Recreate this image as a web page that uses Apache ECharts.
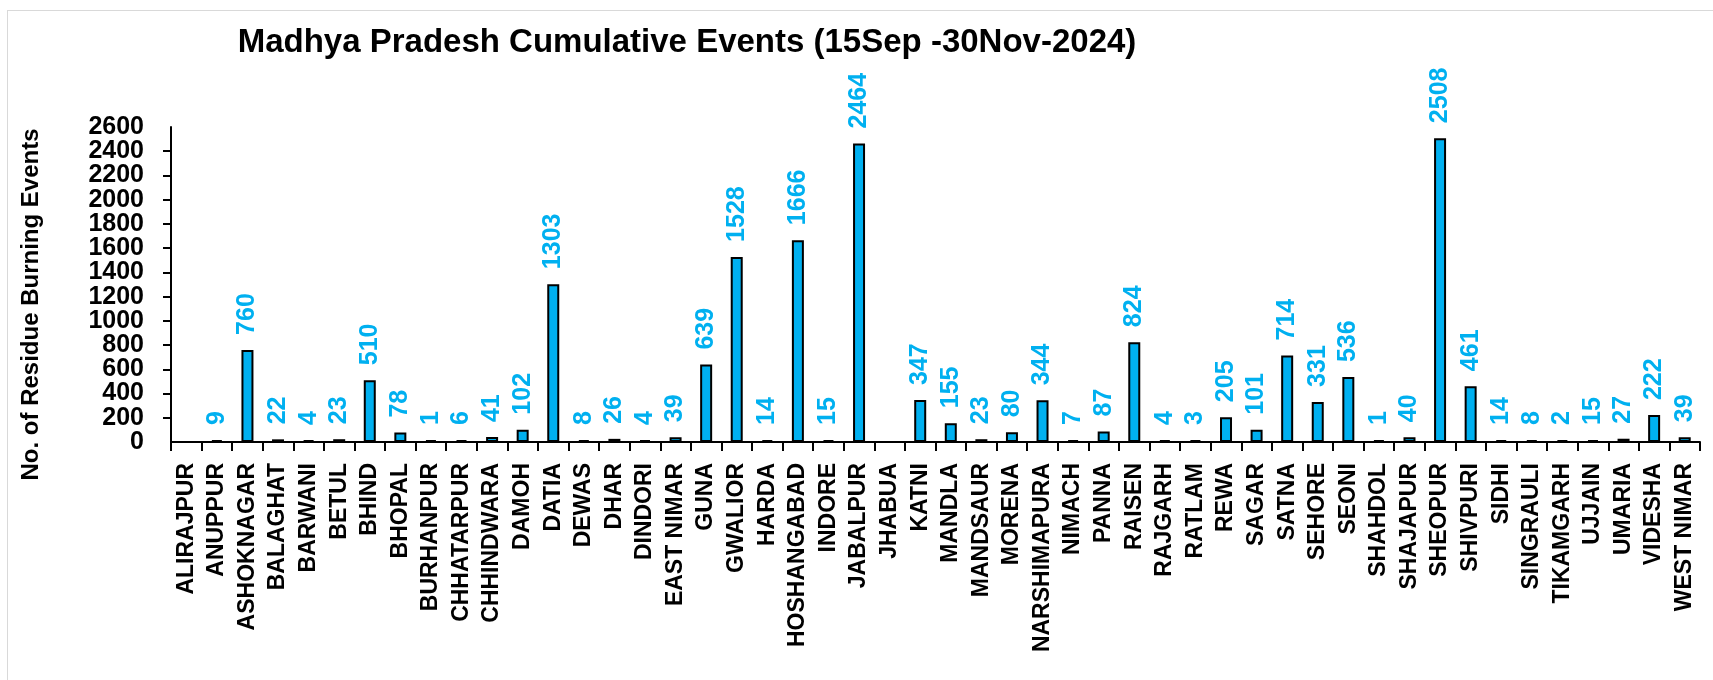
<!DOCTYPE html>
<html>
<head>
<meta charset="utf-8">
<script src="https://cdn.jsdelivr.net/npm/echarts@6/dist/echarts.min.js"></script>
<style>
  html, body { margin: 0; padding: 0; background: #fff; overflow: hidden; }
  #frame { position: absolute; left: 7px; top: 10px; width: 1720px; height: 700px; border: 1px solid #d9d9d9; box-sizing: border-box; }
  #chart { position: absolute; left: 0; top: 0; width: 1713px; height: 680px; }
</style>
</head>
<body>
<div id="frame"></div>
<div id="chart"></div>
<script>
// districts on the x axis
const districts = [
  'ALIRAJPUR', 'ANUPPUR', 'ASHOKNAGAR', 'BALAGHAT', 'BARWANI', 'BETUL', 'BHIND', 'BHOPAL',
  'BURHANPUR', 'CHHATARPUR', 'CHHINDWARA', 'DAMOH', 'DATIA', 'DEWAS', 'DHAR', 'DINDORI',
  'EAST NIMAR', 'GUNA', 'GWALIOR', 'HARDA', 'HOSHANGABAD', 'INDORE', 'JABALPUR', 'JHABUA',
  'KATNI', 'MANDLA', 'MANDSAUR', 'MORENA', 'NARSHIMAPURA', 'NIMACH', 'PANNA', 'RAISEN',
  'RAJGARH', 'RATLAM', 'REWA', 'SAGAR', 'SATNA', 'SEHORE', 'SEONI', 'SHAHDOL',
  'SHAJAPUR', 'SHEOPUR', 'SHIVPURI', 'SIDHI', 'SINGRAULI', 'TIKAMGARH', 'UJJAIN', 'UMARIA',
  'VIDESHA', 'WEST NIMAR'
];

// cumulative events (null = no bar / no label)
const events = [
  null, 9, 760, 22, 4, 23, 510, 78,
  1, 6, 41, 102, 1303, 8, 26, 4,
  39, 639, 1528, 14, 1666, 15, 2464, null,
  347, 155, 23, 80, 344, 7, 87, 824,
  4, 3, 205, 101, 714, 331, 536, 1,
  40, 2508, 461, 14, 8, 2, 15, 27,
  222, 39
];

const yMin = 0;
const yMax = 2600;
const yStep = 200;

const tickFont = {
  color: '#000',
  fontFamily: 'Liberation Sans',
  fontWeight: 'bold',
  fontSize: 25
};

const chart = echarts.init(document.getElementById('chart'));

const option = {
  animation: false,
  title: {
    text: 'Madhya Pradesh Cumulative Events (15Sep -30Nov-2024)',
    left: 682,
    top: 21,
    textAlign: 'center',
    textStyle: {
      fontFamily: 'Liberation Sans',
      fontWeight: 'bold',
      fontSize: 33,
      color: '#000'
    }
  },
  grid: {
    left: 171,
    right: 13,
    top: 127,
    bottom: 238
  },
  xAxis: {
    type: 'category',
    data: districts,
    axisLine: { lineStyle: { color: '#000', width: 2 } },
    axisTick: { show: true, length: 9, lineStyle: { color: '#000', width: 2 } },
    axisLabel: {
      rotate: 90,
      interval: 0,
      margin: 21,
      color: '#000',
      fontFamily: 'Liberation Sans',
      fontWeight: 'bold',
      fontSize: 23
    }
  },
  yAxis: [{
    type: 'value',
    min: yMin,
    max: yMax,
    interval: yStep,
    name: 'No. of Residue Burning Events',
    nameLocation: 'middle',
    nameRotate: 90,
    nameGap: 128,
    nameTextStyle: {
      fontFamily: 'Liberation Sans',
      fontWeight: 'bold',
      fontSize: 24,
      color: '#000',
      padding: [0, 40, 0, 0]
    },
    splitLine: { show: false },
    axisLine: { show: true, lineStyle: { color: '#000', width: 2 } },
    axisTick: { show: true, length: 8, lineStyle: { color: '#000', width: 2 } },
    axisLabel: Object.assign({
      margin: 27,
      showMinLabel: false,
      showMaxLabel: false,
      formatter: v => String(v)
    }, tickFont)
  }, {
    // end labels (0 and 2600), kept apart so the overlap check does not drop neighbours
    type: 'value',
    position: 'left',
    min: yMin,
    max: yMax,
    interval: yStep,
    splitLine: { show: false },
    axisLine: { show: false },
    axisTick: { show: false },
    axisLabel: Object.assign({
      margin: 27,
      customValues: [yMin, yMax],
      formatter: v => String(v)
    }, tickFont)
  }],
  series: [{
    type: 'bar',
    data: events,
    barWidth: 12,
    barMinHeight: 2,
    itemStyle: {
      color: '#00B0F0',
      borderColor: '#000',
      borderWidth: 2
    },
    label: {
      show: true,
      position: 'top',
      rotate: 90,
      align: 'left',
      verticalAlign: 'middle',
      distance: 15,
      color: '#00B0F0',
      fontFamily: 'Liberation Sans',
      fontWeight: 'bold',
      fontSize: 25
    }
  }]
};

chart.setOption(option);
</script>
</body>
</html>
